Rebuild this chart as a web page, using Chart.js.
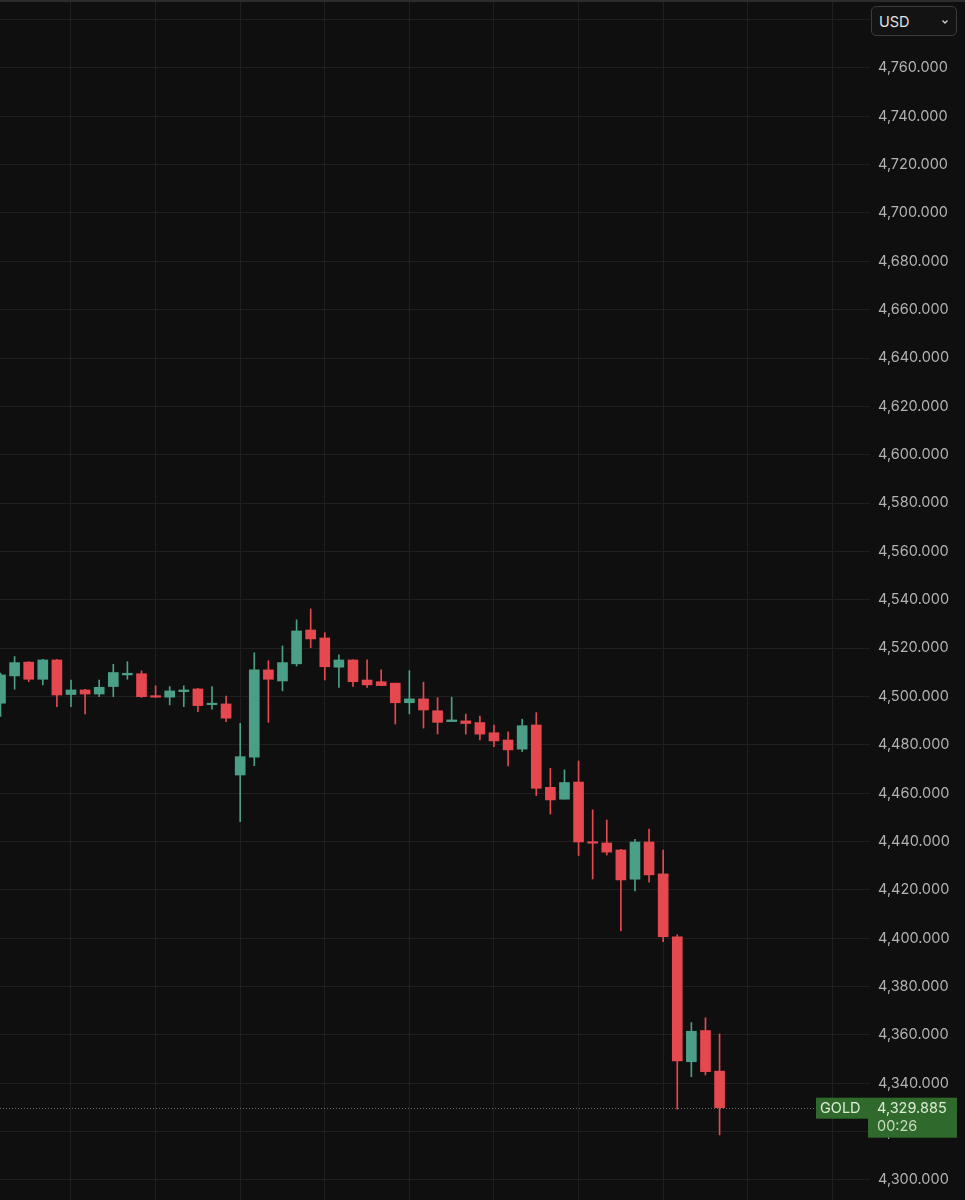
<!DOCTYPE html>
<html>
<head>
<meta charset="utf-8">
<script src="https://cdn.jsdelivr.net/npm/chart.js@4.4.1/dist/chart.umd.min.js"></script>
<style>
  html, body { margin: 0; padding: 0; background: #0f0f0f; }
  #wrap { position: relative; width: 965px; height: 1200px; overflow: hidden; }
  #currency {
    position: absolute; left: 871px; top: 6px; width: 86px; height: 30px;
    border: 1px solid #3c3c3c; border-radius: 5px; background: #131313;
    color: #e2e2e2; font: 14.5px Inter, "Liberation Sans", sans-serif;
    box-sizing: border-box; padding: 6px 0 0 7px;
  }
  #currency svg { position: absolute; right: 7px; top: 12px; }
</style>
</head>
<body>
<div id="wrap">
  <canvas id="myChart" width="965" height="1200"></canvas>
  <div id="currency">USD<svg width="8" height="6" viewBox="0 0 8 6"><path d="M1.5 1.5 L4 4 L6.5 1.5" stroke="#cfcfcf" stroke-width="1.3" fill="none"/></svg></div>
</div>
<script>
// candles, oldest first
let opens = [4497.2, 4508.5, 4514.2, 4507.1, 4515.1, 4500.8, 4502.7, 4501.0, 4504.1, 4508.9,
  4509.4, 4500.3, 4499.7, 4502.0, 4503.1, 4496.6, 4496.9, 4467.5, 4474.9, 4511.0,
  4506.4, 4513.5, 4527.5, 4524.2, 4512.1, 4515.1, 4506.8, 4506.1, 4505.5, 4497.4,
  4499.0, 4494.1, 4489.6, 4489.9, 4489.2, 4485.0, 4482.0, 4478.2, 4488.2, 4462.4,
  4457.5, 4464.6, 4439.9, 4439.4, 4436.5, 4424.4, 4439.8, 4426.6, 4400.6, 4348.9,
  4361.8, 4345.0];
let highs = [4509.7, 4516.5, 4514.4, 4515.4, 4515.4, 4506.8, 4502.9, 4506.8, 4513.3, 4514.4,
  4510.6, 4504.4, 4504.1, 4504.4, 4503.4, 4504.1, 4500.2, 4488.9, 4518.1, 4514.8,
  4520.9, 4531.7, 4536.2, 4526.4, 4517.2, 4515.1, 4515.1, 4511.0, 4505.5, 4510.7,
  4505.9, 4499.5, 4499.7, 4492.7, 4491.9, 4488.2, 4485.4, 4490.6, 4493.3, 4470.3,
  4469.6, 4473.3, 4453.1, 4448.9, 4436.8, 4440.9, 4445.1, 4436.5, 4401.4, 4365.1,
  4367.1, 4360.4];
let lows = [4491.7, 4503.0, 4506.1, 4504.8, 4495.8, 4495.8, 4492.8, 4499.9, 4499.9, 4507.1,
  4499.6, 4499.6, 4496.5, 4495.8, 4493.7, 4494.7, 4489.6, 4448.2, 4471.4, 4489.3,
  4502.3, 4512.6, 4520.2, 4506.8, 4503.7, 4504.1, 4503.7, 4504.5, 4488.6, 4492.8,
  4486.9, 4484.5, 4489.6, 4484.4, 4482.0, 4479.2, 4471.3, 4477.2, 4459.0, 4451.4,
  4457.5, 4434.2, 4424.5, 4434.4, 4403.0, 4419.6, 4423.2, 4398.6, 4329.3, 4342.7,
  4343.4, 4318.6];
let closes = [4508.9, 4514.0, 4507.1, 4515.1, 4500.6, 4502.7, 4501.0, 4503.8, 4509.9, 4509.6,
  4499.9, 4499.7, 4502.3, 4502.7, 4496.2, 4497.0, 4491.0, 4475.1, 4511.0, 4507.1,
  4514.0, 4527.1, 4523.8, 4512.3, 4515.1, 4506.1, 4504.8, 4504.5, 4497.4, 4499.0,
  4494.4, 4489.3, 4490.3, 4488.8, 4484.4, 4481.6, 4477.9, 4487.9, 4462.0, 4457.2,
  4464.4, 4439.8, 4439.3, 4435.6, 4424.1, 4439.8, 4426.2, 4400.6, 4349.2, 4361.5,
  4344.8, 4329.885];

let symbol = "GOLD";
let lastPrice = 4329.885;
let countdown = "00:26";
let yMin = 4291.7;
let yMax = 4788.1;
let priceStep = 20;
let xMin = 0.9645;
let xMax = 62.67;
let gridEvery = 6;

let upColor = "#4c9f87";
let downColor = "#e5484f";

let fmt = (v) => v.toLocaleString("en-US", { minimumFractionDigits: 3, maximumFractionDigits: 3 });

let bodies = opens.map((o, i) => ({ x: i + 1, y: [o, closes[i]] }));
let wicks = lows.map((l, i) => ({ x: i + 1, y: [l, highs[i]] }));
let candleColors = opens.map((o, i) => (closes[i] >= o ? upColor : downColor));

let background = {
  id: "background",
  beforeDraw(chart) {
    let ctx = chart.ctx;
    ctx.save();
    ctx.fillStyle = "#0f0f0f";
    ctx.fillRect(0, 0, chart.width, chart.height);
    ctx.restore();
  },
  afterDraw(chart) {
    let ctx = chart.ctx;
    ctx.save();
    ctx.fillStyle = "#2c2c2c";
    ctx.fillRect(0, 0, chart.width, 2);
    ctx.restore();
  },
};

let priceTag = {
  id: "priceTag",
  afterDatasetsDraw(chart) {
    let ctx = chart.ctx;
    let y = Math.round(chart.scales.y.getPixelForValue(lastPrice)) + 0.5;
    ctx.save();
    // dotted last price line
    ctx.strokeStyle = "rgba(140,140,120,0.75)";
    ctx.lineWidth = 1;
    ctx.setLineDash([1, 2]);
    ctx.beginPath();
    ctx.moveTo(0, y);
    ctx.lineTo(816, y);
    ctx.stroke();
    ctx.setLineDash([]);
    ctx.restore();
  },
  afterDraw(chart) {
    let ctx = chart.ctx;
    let y = chart.scales.y.getPixelForValue(lastPrice);
    ctx.save();
    ctx.fillStyle = "#2f6a2c";
    ctx.fillRect(816, y - 10, 52, 21);
    ctx.fillRect(868, y - 10, 89, 40);
    ctx.fillStyle = "#dcebd6";
    ctx.font = "14.5px Inter, 'Liberation Sans', sans-serif";
    ctx.textBaseline = "middle";
    ctx.textAlign = "left";
    ctx.fillText(symbol, 820, y + 0.5);
    ctx.fillText(fmt(lastPrice), 877, y + 0.5);
    ctx.fillStyle = "#c5dcbf";
    ctx.fillText(countdown, 877, y + 18.5);
    ctx.restore();
  },
};

let charts = document.getElementById("myChart").getContext("2d");

let candleChart = new Chart(charts, {
  type: "bar",
  data: {
    datasets: [
      {
        label: "wicks",
        data: wicks,
        backgroundColor: candleColors,
        barThickness: 1,
        grouped: false,
        order: 2,
      },
      {
        label: "bodies",
        data: bodies,
        backgroundColor: candleColors,
        barThickness: 10,
        minBarLength: 1.5,
        grouped: false,
        order: 1,
      },
    ],
  },
  options: {
    responsive: false,
    animation: false,
    devicePixelRatio: 1,
    layout: { padding: 0 },
    plugins: {
      legend: { display: false },
      tooltip: { enabled: false },
    },
    scales: {
      x: {
        type: "linear",
        offset: false,
        min: xMin,
        max: xMax,
        border: { display: false },
        grid: { color: "#1f1f1f", drawTicks: false, offset: false },
        ticks: { display: false, includeBounds: false, stepSize: gridEvery },
        afterBuildTicks: (s) => {
          s.ticks = s.ticks.filter((t) => t.value % gridEvery === 0);
        },
        afterFit: (s) => {
          s.height = 0;
        },
      },
      y: {
        position: "right",
        min: yMin,
        max: yMax,
        border: { display: false },
        grid: { color: "#1f1f1f", drawTicks: false },
        ticks: {
          stepSize: priceStep,
          includeBounds: false,
          padding: 8,
          color: "#b2b2b2",
          font: { family: "Inter", size: 14.5 },
          callback: (v) => fmt(v),
        },
        afterFit: (s) => {
          s.width = 95;
          s.paddingTop = 0;
          s.paddingBottom = 0;
        },
      },
    },
  },
  plugins: [background, priceTag],
});
</script>
</body>
</html>
